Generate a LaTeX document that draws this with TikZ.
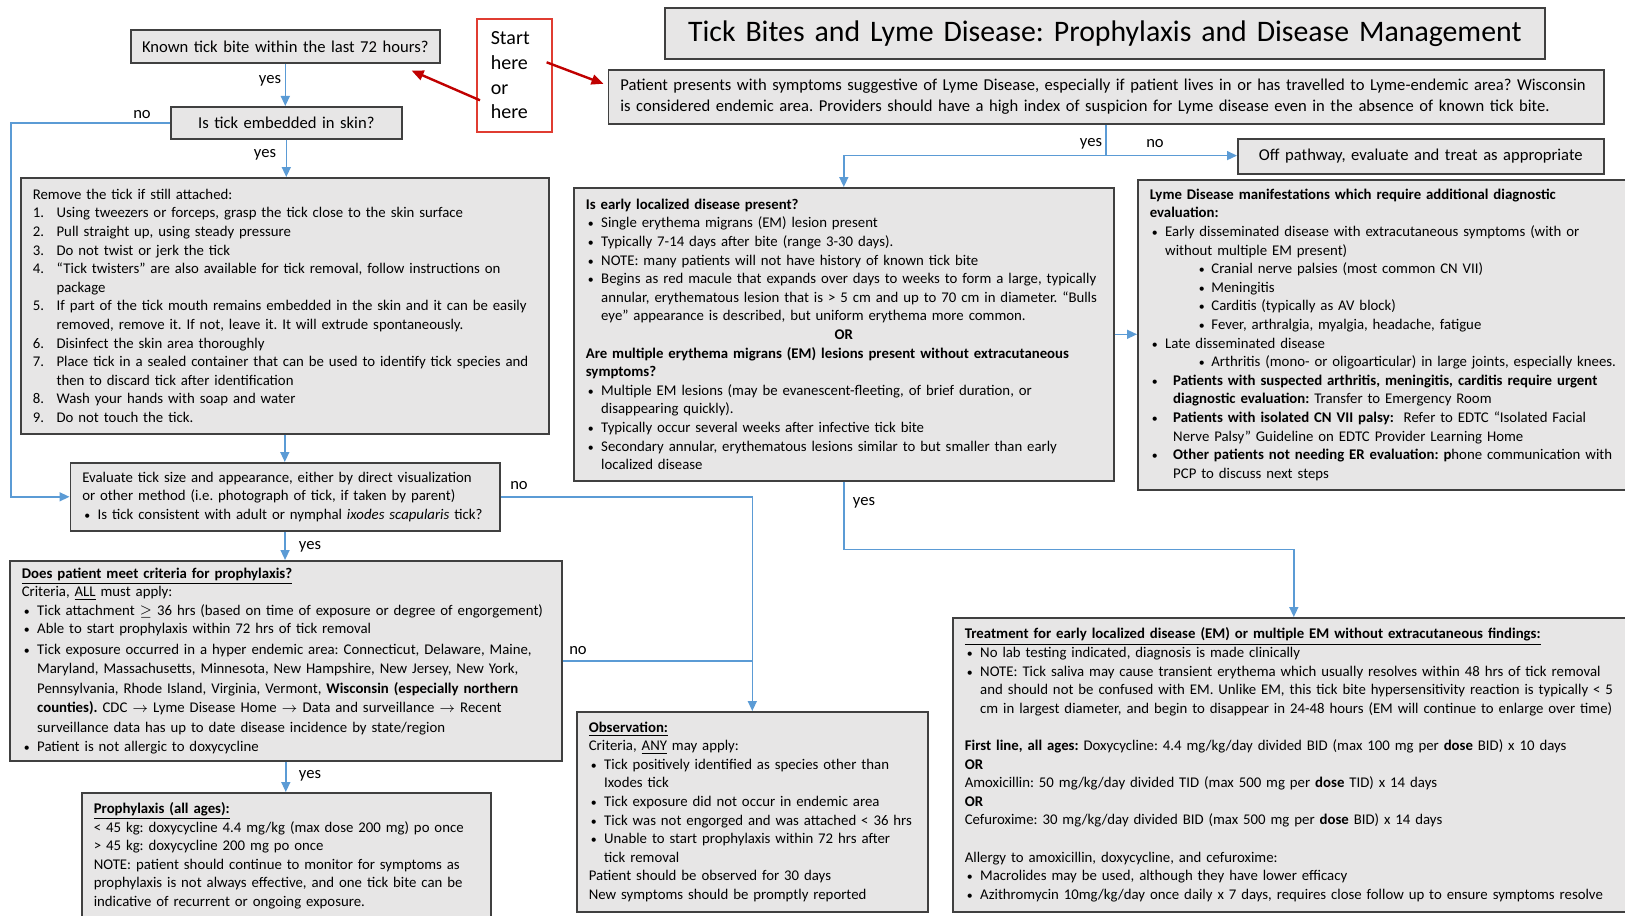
\documentclass[tikz,border=0pt]{standalone}
\usepackage{fontspec}
\setmainfont{Carlito}
\usetikzlibrary{arrows.meta,calc}

\definecolor{boxgray}{HTML}{E7E6E6}
\definecolor{boxline}{HTML}{404040}
\definecolor{flowblue}{HTML}{5B9BD5}
\definecolor{startred}{HTML}{E03C31}
\definecolor{arrowred}{HTML}{C00000}

\frenchspacing
\hyphenpenalty=10000
\exhyphenpenalty=10000

\newcommand{\bodyfont}{\fontsize{7.4}{9.3}\selectfont}
\newcommand{\bigfont}{\fontsize{8.3}{10.35}\selectfont}
\newcommand{\bdot}{\scalebox{0.8}{\textbullet}}
\newcommand{\itm}{\hspace*{1pt}\makebox[6.7pt][l]{\bdot}}
\newcommand{\itmw}{\hspace*{1pt}\makebox[10.7pt][l]{\bdot}}
\newcommand{\subitm}{\hspace*{24.5pt}\makebox[6.3pt][l]{\bdot}}
\newcommand{\cont}{\hspace*{7.7pt}}
\newcommand{\contw}{\hspace*{11.7pt}}
\newcommand{\nr}[1]{\makebox[11.9pt][l]{#1.}}
\newcommand{\nrcont}{\hspace*{11.9pt}}

\begin{document}
\begin{tikzpicture}[x=0.5pt,y=-0.5pt]
	\tikzstyle{box}=[draw=boxline,fill=boxgray,line width=0.8pt,anchor=north west,
					inner xsep=6pt,inner ysep=0pt,align=left,font=\bodyfont]
	\tikzstyle{question}=[box,align=center,inner xsep=4pt,font=\bigfont]
	\tikzstyle{conn}=[draw=flowblue,line width=0.7pt,-{Triangle[length=5pt,width=4.5pt]}]
	\tikzstyle{flowline}=[draw=flowblue,line width=0.7pt]
	\tikzstyle{lbl}=[font=\bigfont,inner sep=0pt]
	\tikzstyle{redarrow}=[draw=arrowred,line width=1.2pt,-{Triangle[length=6pt,width=5pt]}]

	\useasboundingbox (0,0) rectangle (1625,915);
	\clip (0,0) rectangle (1625,915);

	% title and start
	\node[box,align=center,font=\fontsize{14.9}{17}\selectfont,text width=428pt,minimum height=25.5pt] (title) at (664,7) {Tick Bites and Lyme Disease: Prophylaxis and Disease Management};
	\node[box,draw=startred,fill=white,inner xsep=7pt,text width=23.5pt,minimum height=56.5pt,font=\fontsize{10}{12.4}\selectfont] (start) at (476,18) {Start\\here\\or\\here};

	% tick bite branch
	\node[question,text width=146.5pt,minimum height=16.5pt] (known) at (130,29) {Known tick bite within the last 72 hours?};
	\node[question,text width=107.5pt,minimum height=16pt] (embedded) at (170,106) {Is tick embedded in skin?};

	\node[box,text width=252pt,minimum height=128pt] (remove) at (20,177) {Remove the tick if still attached:\\
		\nr{1}Using tweezers or forceps, grasp the tick close to the skin surface\\
		\nr{2}Pull straight up, using steady pressure\\
		\nr{3}Do not twist or jerk the tick\\
		\nr{4}“Tick twisters” are also available for tick removal, follow instructions on\\
		\nrcont package\\
		\nr{5}If part of the tick mouth remains embedded in the skin and it can be easily\\
		\nrcont removed, remove it. If not, leave it. It will extrude spontaneously.\\
		\nr{6}Disinfect the skin area thoroughly\\
		\nr{7}Place tick in a sealed container that can be used to identify tick species and\\
		\nrcont then to discard tick after identification\\
		\nr{8}Wash your hands with soap and water\\
		\nr{9}Do not touch the tick.};

	\node[box,text width=202.75pt,minimum height=34pt] (evaluate) at (69.5,462) {Evaluate tick size and appearance, either by direct visualization\\
		or other method (i.e. photograph of tick, if taken by parent)\\
		\itm Is tick consistent with adult or nymphal \textit{ixodes scapularis} tick?};

	\node[box,text width=264pt,minimum height=100pt] (does) at (9,560) {\underline{\textbf{Does patient meet criteria for prophylaxis?}}\\
		Criteria, \underline{ALL} must apply:\\
		\itm Tick attachment $\geq$ 36 hrs (based on time of exposure or degree of engorgement)\\
		\itm Able to start prophylaxis within 72 hrs of tick removal\\[1pt]
		\itm Tick exposure occurred in a hyper endemic area: Connecticut, Delaware, Maine,\\
		\cont Maryland, Massachusetts, Minnesota, New Hampshire, New Jersey, New York,\\[1pt]
		\cont Pennsylvania, Rhode Island, Virginia, Vermont, \textbf{Wisconsin (especially northern}\\
		\cont \textbf{counties).} CDC $\rightarrow$ Lyme Disease Home $\rightarrow$ Data and surveillance $\rightarrow$ Recent\\[1pt]
		\cont surveillance data has up to date disease incidence by state/region\\
		\itm Patient is not allergic to doxycycline};

	\node[box,text width=192.5pt,minimum height=63pt] (prophylaxis) at (81,792) {\underline{\textbf{Prophylaxis (all ages):}}\\
		< 45 kg: doxycycline 4.4 mg/kg (max dose 200 mg) po once\\
		> 45 kg: doxycycline 200 mg po once\\
		NOTE: patient should continue to monitor for symptoms as\\
		prophylaxis is not always effective, and one tick bite can be\\
		indicative of recurrent or ongoing exposure.};

	\node[box,text width=163.5pt,minimum height=100pt] (observation) at (576,711) {\underline{\textbf{Observation:}}\\
		Criteria, \underline{ANY} may apply:\\
		\itm Tick positively identified as species other than\\
		\cont Ixodes tick\\
		\itm Tick exposure did not occur in endemic area\\
		\itm Tick was not engorged and was attached < 36 hrs\\
		\itm Unable to start prophylaxis within 72 hrs after\\
		\cont tick removal\\
		Patient should be observed for 30 days\\
		New symptoms should be promptly reported};

	% symptom branch
	\node[box,font=\bigfont,text width=485.75pt,minimum height=27pt] (patient) at (607.5,69) {Patient presents with symptoms suggestive of Lyme Disease, especially if patient lives in or has travelled to Lyme-endemic area? Wisconsin\\
		is considered endemic area. Providers should have a high index of suspicion for Lyme disease even in the absence of known tick bite.};
	\node[question,text width=175pt,minimum height=17.5pt] (off) at (1237,138) {Off pathway, evaluate and treat as appropriate};

	\node[box,text width=258pt,minimum height=146.5pt] (early) at (573,187) {\textbf{Is early localized disease present?}\\
		\itm Single erythema migrans (EM) lesion present\\
		\itm Typically 7-14 days after bite (range 3-30 days).\\
		\itm NOTE: many patients will not have history of known tick bite\\
		\itm Begins as red macule that expands over days to weeks to form a large, typically\\
		\cont annular, erythematous lesion that is > 5 cm and up to 70 cm in diameter. “Bulls\\
		\cont eye” appearance is described, but uniform erythema more common.\\
		\makebox[\linewidth]{\textbf{OR}}\\
		\textbf{Are multiple erythema migrans (EM) lesions present without extracutaneous}\\
		\textbf{symptoms?}\\
		\itm Multiple EM lesions (may be evanescent-fleeting, of brief duration, or\\
		\cont disappearing quickly).\\
		\itm Typically occur several weeks after infective tick bite\\
		\itm Secondary annular, erythematous lesions similar to but smaller than early\\
		\cont localized disease};

	\node[box,text width=242pt,minimum height=155pt] (lyme) at (1137,179) {\textbf{Lyme Disease manifestations which require additional diagnostic}\\
		\textbf{evaluation:}\\
		\itm Early disseminated disease with extracutaneous symptoms (with or\\
		\cont without multiple EM present)\\
		\subitm Cranial nerve palsies (most common CN VII)\\
		\subitm Meningitis\\
		\subitm Carditis (typically as AV block)\\
		\subitm Fever, arthralgia, myalgia, headache, fatigue\\
		\itm Late disseminated disease\\
		\subitm Arthritis (mono- or oligoarticular) in large joints, especially knees.\\
		\itmw \textbf{Patients with suspected arthritis, meningitis, carditis require urgent}\\
		\contw \textbf{diagnostic evaluation:} Transfer to Emergency Room\\
		\itmw \textbf{Patients with isolated CN VII palsy:}\ \ Refer to EDTC “Isolated Facial\\
		\contw Nerve Palsy” Guideline on EDTC Provider Learning Home\\
		\itmw \textbf{Other patients not needing ER evaluation: p}hone communication with\\
		\contw PCP to discuss next steps};

	\node[box,text width=329pt,minimum height=147pt] (treatment) at (952,617) {\underline{\textbf{Treatment for early localized disease (EM) or multiple EM without extracutaneous findings:}}\\
		\itm No lab testing indicated, diagnosis is made clinically\\
		\itm NOTE: Tick saliva may cause transient erythema which usually resolves within 48 hrs of tick removal\\
		\cont and should not be confused with EM. Unlike EM, this tick bite hypersensitivity reaction is typically < 5\\
		\cont cm in largest diameter, and begin to disappear in 24-48 hours (EM will continue to enlarge over time)\\[9.3pt]
		\textbf{First line, all ages:} Doxycycline: 4.4 mg/kg/day divided BID (max 100 mg per \textbf{dose} BID) x 10 days\\
		\textbf{OR}\\
		Amoxicillin: 50 mg/kg/day divided TID (max 500 mg per \textbf{dose} TID) x 14 days\\
		\textbf{OR}\\
		Cefuroxime: 30 mg/kg/day divided BID (max 500 mg per \textbf{dose} BID) x 14 days\\[9.3pt]
		Allergy to amoxicillin, doxycycline, and cefuroxime:\\
		\itm Macrolides may be used, although they have lower efficacy\\
		\itm Azithromycin 10mg/kg/day once daily x 7 days, requires close follow up to ensure symptoms resolve};

	% connectors
	\coordinate (leftrail) at (11,0);
	\draw[conn] (known) -- (known |- embedded.north);
	\draw[conn] (embedded) -- (embedded |- remove.north);
	\draw[conn] (embedded.west) -- (leftrail |- embedded.west) |- (evaluate.west);
	\draw[conn] (remove) -- (remove |- evaluate.north);
	\draw[conn] (evaluate.east) -| (observation.north);
	\draw[conn] (evaluate) -- (evaluate |- does.north);
	\draw[flowline] (does.east) -- (observation.north |- does.east);
	\draw[conn] (does) -- (does |- prophylaxis.north);

	\coordinate (split) at ($(patient.south)+(0,31)$);
	\draw[conn] (patient.south) -- (split) -| (early.north);
	\draw[conn] (split) -- (split -| off.west);
	\draw[conn] (early.east) -- (early.east -| lyme.west);
	\coordinate (turn) at ($(early.south)+(0,68)$);
	\draw[conn] (early.south) -- (turn) -| (treatment.north);

	\draw[redarrow] ($(start.west)+(4,25)$) -- ($(known.south east)+(-29,7)$);
	\draw[redarrow] ($(start.east)+(-6,-13)$) -- ($(patient.west)+(-4,-13)$);

	% yes / no
	\foreach \name/\txt/\x/\y in {yesA/yes/270/81, noA/no/142/115, yesB/yes/265/155,
			noB/no/519/486, yesC/yes/310/547, noC/no/578/651, yesD/yes/310/776,
			yesE/yes/1091/144, noE/no/1155/144, yesF/yes/864/503}
		\node[lbl] (\name) at (\x,\y) {\txt};
\end{tikzpicture}
\end{document}
